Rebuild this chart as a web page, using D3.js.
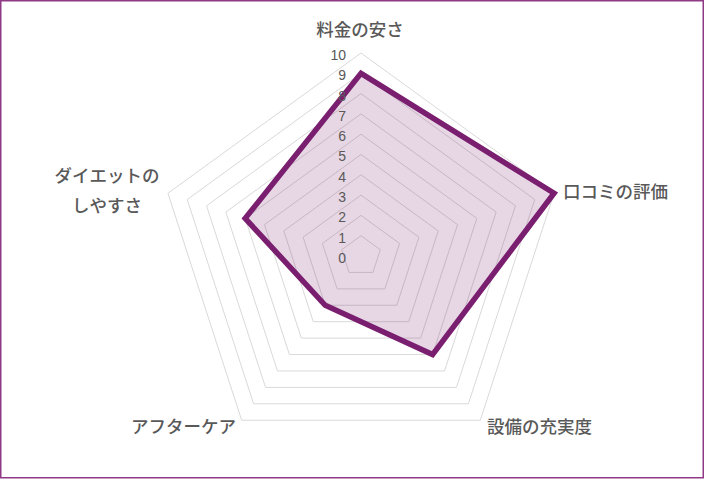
<!DOCTYPE html>
<html>
<head>
<meta charset="utf-8">
<script src="https://cdn.jsdelivr.net/npm/d3@7"></script>
<style>
  body { margin: 0; background: #fff; }
  svg { display: block; font-family: "Noto Sans CJK JP", "Liberation Sans", sans-serif; }
</style>
</head>
<body>
<div id="root"></div>
<script>
const categories = ["料金の安さ", "口コミの評価", "設備の充実度", "アフターケア", "ダイエットのしやすさ"];
const values = [9, 10, 6, 3, 6];
const tickLabels = ["0", "1", "2", "3", "4", "5", "6", "7", "8", "9", "10"];

const outerWidth = 704;
const outerHeight = 480;
const cx = 361, cy = 256, radius = 203;

const scaleR = d3.scaleLinear().domain([0, 10]).range([0, radius]);
const angle = i => i * 2 * Math.PI / categories.length;
const point = (i, v) => [cx + scaleR(v) * Math.sin(angle(i)), cy - scaleR(v) * Math.cos(angle(i))];

const svg = d3.select("#root")
    .append("svg")
    .attr("width", outerWidth)
    .attr("height", outerHeight);

svg.append("rect")
    .attr("x", 0.75).attr("y", 0.75)
    .attr("width", 702.5).attr("height", 477)
    .attr("fill", "#fff")
    .attr("stroke", "#8e3a86")
    .attr("stroke-width", 1.5);

// grid rings
const line = d3.line();
svg.append("g").selectAll("path")
    .data(d3.range(1, 11))
    .join("path")
    .attr("d", lvl => line(categories.map((c, i) => point(i, lvl))) + "Z")
    .attr("fill", "none")
    .attr("stroke", "#d9d9d9")
    .attr("stroke-width", 1);

// data area
svg.append("path")
    .attr("d", line(values.map((v, i) => point(i, v))) + "Z")
    .attr("fill", "rgba(123,31,110,0.18)")
    .attr("stroke", "#7a1e6f")
    .attr("stroke-width", 5.5)
    .attr("stroke-linejoin", "miter");

// tick labels
svg.append("g").selectAll("text")
    .data(tickLabels)
    .join("text")
    .attr("x", 346)
    .attr("y", (d, i) => cy - scaleR(i) + 2)
    .attr("dy", "0.35em")
    .attr("text-anchor", "end")
    .attr("font-family", "Liberation Sans, Arial, sans-serif")
    .attr("font-size", 14)
    .attr("fill", "#595959")
    .text(d => d);

// category labels
const labelPos = [
    { x: 360, y: 30, anchor: "middle", lines: ["料金の安さ"] },
    { x: 563, y: 192, anchor: "start", lines: ["口コミの評価"] },
    { x: 487, y: 427, anchor: "start", lines: ["設備の充実度"] },
    { x: 236, y: 427, anchor: "end", lines: ["アフターケア"] },
    { x: 107, y: 176, anchor: "middle", lines: ["ダイエットの", "しやすさ"] }
];

const labels = svg.append("g").selectAll("text")
    .data(labelPos)
    .join("text")
    .attr("x", d => d.x)
    .attr("y", d => d.y)
    .attr("text-anchor", d => d.anchor)
    .attr("font-size", 17.5)
    .attr("font-weight", 500)
    .attr("fill", "#595959");

labels.selectAll("tspan")
    .data(d => d.lines.map(l => ({ text: l, x: d.x })))
    .join("tspan")
    .attr("x", d => d.x)
    .attr("dy", (d, i) => i === 0 ? "0.35em" : "30px")
    .text(d => d.text);
</script>
</body>
</html>
